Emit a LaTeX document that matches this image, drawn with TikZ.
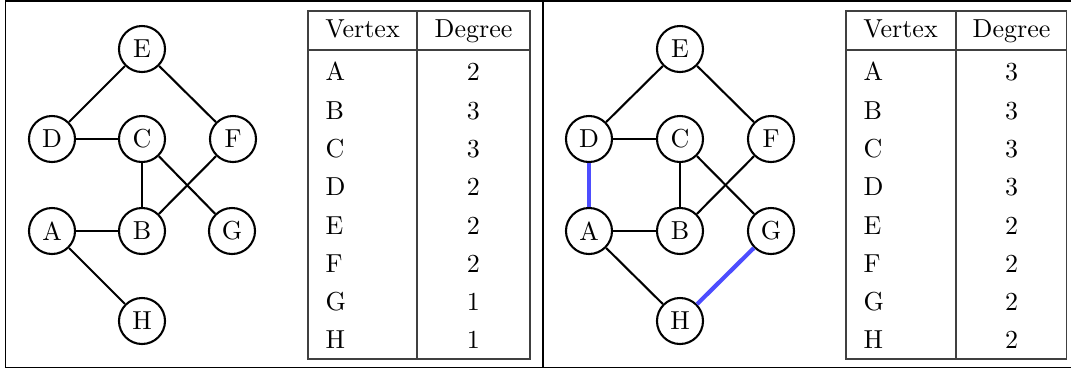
\documentclass[tikz,border=0pt]{standalone}
\usetikzlibrary{calc}
\definecolor{hiblue}{RGB}{77,77,255}
\begin{document}
\begin{tikzpicture}[x=0.3846pt,y=-0.3846pt,
  vert/.style={circle,draw,thick,minimum size=17.7pt,inner sep=0pt,fill=white},
  edge/.style={thick},
  hiedge/.style={line width=1.6pt,draw=hiblue},
  frame/.style={line width=0.65pt},
  divider/.style={line width=1.05pt},
  tabline/.style={line width=0.45pt,draw=black!75},
  cell/.style={inner sep=0pt,text height=6.83pt,text depth=0pt}]
\useasboundingbox (0,0) rectangle (1071,369);
% outer frame
\coordinate (tl) at (5.5,1);
\coordinate (bl) at (5.5,367.6);
\coordinate (tr) at (1075,1);
\coordinate (br) at (1075,367.6);
\coordinate (dt) at (543,1);
\coordinate (db) at (543,367.6);
\draw[frame] (tr) -- (tl) -- (bl) -- (br);
\draw[divider] (dt) -- (db);

% left graph
\begin{scope}
\node[vert] (E1) at (142,49) {E};
\node[vert] (D1) at (52,139) {D};
\node[vert] (C1) at (142,139) {C};
\node[vert] (F1) at (233,139) {F};
\node[vert] (A1) at (52,231) {A};
\node[vert] (B1) at (142,231) {B};
\node[vert] (G1) at (232,231) {G};
\node[vert] (H1) at (142,321) {H};
\draw[edge] (E1) -- (D1);
\draw[edge] (E1) -- (F1);
\draw[edge] (D1) -- (C1);
\draw[edge] (C1) -- (B1);
\draw[edge] (C1) -- (G1);
\draw[edge] (F1) -- (B1);
\draw[edge] (A1) -- (B1);
\draw[edge] (A1) -- (H1);
\end{scope}

% right graph
\begin{scope}
\node[vert] (E2) at (680,49) {E};
\node[vert] (D2) at (589,139) {D};
\node[vert] (C2) at (680,139) {C};
\node[vert] (F2) at (771,139) {F};
\node[vert] (A2) at (589,231) {A};
\node[vert] (B2) at (680,231) {B};
\node[vert] (G2) at (771,231) {G};
\node[vert] (H2) at (680,321) {H};
\draw[edge] (E2) -- (D2);
\draw[edge] (E2) -- (F2);
\draw[edge] (D2) -- (C2);
\draw[edge] (C2) -- (B2);
\draw[edge] (C2) -- (G2);
\draw[edge] (F2) -- (B2);
\draw[edge] (A2) -- (B2);
\draw[edge] (A2) -- (H2);
\draw[hiedge] (D2) -- (A2);
\draw[hiedge] (G2) -- (H2);
\end{scope}

% left table
\draw[tabline] (308,11) rectangle (530,359);
\draw[tabline] (417,11) -- (417,359);
\draw[tabline] (308,50) -- (530,50);
\node[cell] (hv1) at (362.5,29) {Vertex};
\node[cell] (hd1) at (473.5,29) {Degree};
\foreach \v/\d [count=\i from 0] in {A/2,B/3,C/3,D/2,E/2,F/2,G/1,H/1}{
  \node[cell,anchor=west] (v1\v) at (325,72+38.3*\i) {\v};
  \node[cell] (d1\v) at (473.5,72+38.3*\i) {\d};
}

% right table
\draw[tabline] (846,11) rectangle (1066.5,359);
\draw[tabline] (956,11) -- (956,359);
\draw[tabline] (846,50) -- (1066.5,50);
\node[cell] (hv2) at (900.5,29) {Vertex};
\node[cell] (hd2) at (1011.5,29) {Degree};
\foreach \v/\d [count=\i from 0] in {A/3,B/3,C/3,D/3,E/2,F/2,G/2,H/2}{
  \node[cell,anchor=west] (v2\v) at (863,72+38.3*\i) {\v};
  \node[cell] (d2\v) at (1011.5,72+38.3*\i) {\d};
}
\end{tikzpicture}
\end{document}
